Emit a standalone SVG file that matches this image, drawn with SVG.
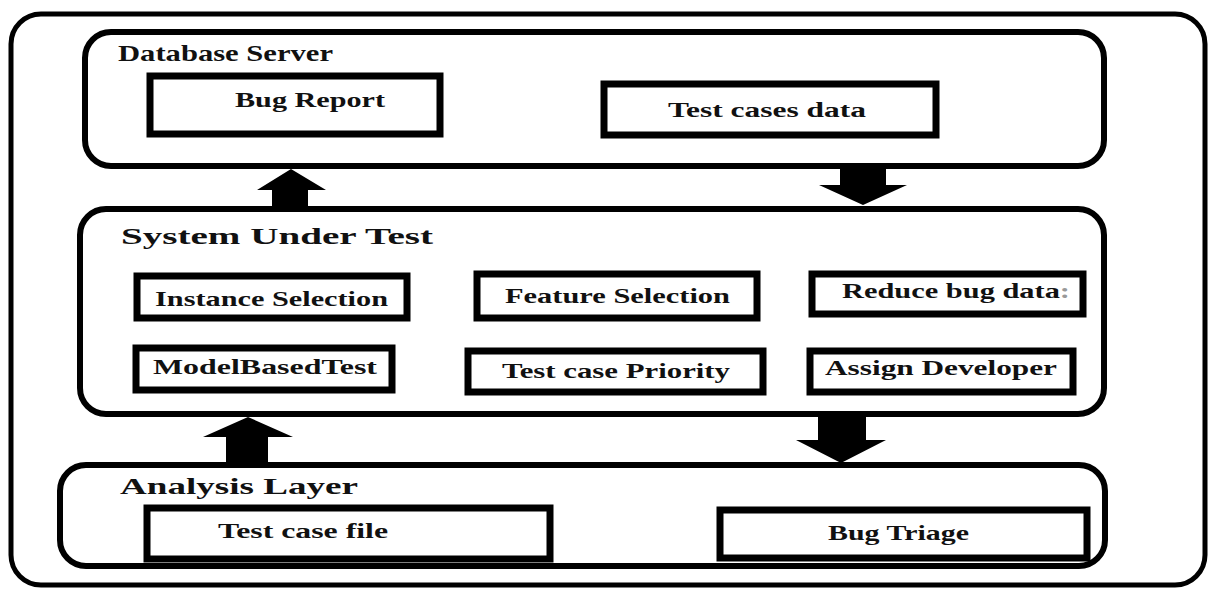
<svg xmlns="http://www.w3.org/2000/svg" width="1210" height="590" viewBox="0 0 1210 590">
  <style>
    .frame { fill: none; stroke: #000; stroke-width: 5; }
    .layer { fill: #fff; stroke: #000; stroke-width: 6; }
    .box { fill: #fff; stroke: #000; stroke-width: 7; }
    .title { font-family: "Liberation Serif", "Times New Roman", serif; font-weight: bold; font-size: 24px; fill: #111; }
    .label { font-family: "Liberation Serif", "Times New Roman", serif; font-weight: bold; font-size: 21px; fill: #111; }
    .arrow { fill: #000; }
  </style>
  <rect width="1210" height="590" fill="#fff"/>

  <!-- outer frame -->
  <rect id="frame" class="frame" x="11" y="14" width="1194" height="571" rx="30" ry="30"/>

  <!-- top layer -->
  <g id="database-server">
    <rect class="layer" x="85" y="32" width="1019" height="134" rx="26" ry="26"/>
    <text class="title" x="118" y="61" font-size="21" textLength="215" lengthAdjust="spacingAndGlyphs">Database Server</text>
  </g>
  <g id="bug-report">
    <rect class="box" x="150" y="76" width="290" height="58"/>
    <text class="label" x="235" y="107" textLength="150" lengthAdjust="spacingAndGlyphs">Bug Report</text>
  </g>
  <g id="test-cases-data">
    <rect class="box" x="604" y="84" width="332" height="51"/>
    <text class="label" x="668" y="117" textLength="198" lengthAdjust="spacingAndGlyphs">Test cases data</text>
  </g>

  <!-- middle layer -->
  <g id="system-under-test">
    <rect class="layer" x="80" y="209" width="1024" height="205" rx="26" ry="26"/>
    <text class="title" x="121" y="244" textLength="312" lengthAdjust="spacingAndGlyphs">System Under Test</text>
  </g>
  <g id="instance-selection">
    <rect class="box" x="137" y="276" width="270" height="42"/>
    <text class="label" x="155" y="306" textLength="233" lengthAdjust="spacingAndGlyphs">Instance Selection</text>
  </g>
  <g id="feature-selection">
    <rect class="box" x="477" y="274" width="280" height="44"/>
    <text class="label" x="505" y="303" textLength="225" lengthAdjust="spacingAndGlyphs">Feature Selection</text>
  </g>
  <g id="reduce-bug-data">
    <rect class="box" x="812" y="274" width="271" height="40"/>
    <text class="label" x="842" y="298" textLength="228" lengthAdjust="spacingAndGlyphs">Reduce bug data<tspan fill="#999">:</tspan></text>
  </g>
  <g id="model-based-test">
    <rect class="box" x="136" y="348" width="256" height="42"/>
    <text class="label" x="153" y="374" textLength="224" lengthAdjust="spacingAndGlyphs">ModelBasedTest</text>
  </g>
  <g id="test-case-priority">
    <rect class="box" x="468" y="351" width="295" height="41"/>
    <text class="label" x="502" y="378" textLength="228" lengthAdjust="spacingAndGlyphs">Test case  Priority</text>
  </g>
  <g id="assign-developer">
    <rect class="box" x="810" y="351" width="263" height="41"/>
    <text class="label" x="825" y="375" textLength="232" lengthAdjust="spacingAndGlyphs">Assign Developer</text>
  </g>

  <!-- bottom layer -->
  <g id="analysis-layer">
    <rect class="layer" x="60" y="465" width="1045" height="101" rx="26" ry="26"/>
    <text class="title" x="120" y="494" textLength="238" lengthAdjust="spacingAndGlyphs">Analysis Layer</text>
  </g>
  <g id="test-case-file">
    <rect class="box" x="147" y="508" width="403" height="51"/>
    <text class="label" x="218" y="538" textLength="170" lengthAdjust="spacingAndGlyphs">Test case file</text>
  </g>
  <g id="bug-triage">
    <rect class="box" x="720" y="510" width="367" height="48"/>
    <text class="label" x="828" y="540" textLength="141" lengthAdjust="spacingAndGlyphs">Bug Triage</text>
  </g>

  <!-- block arrows between layers -->
  <g id="connectors">
    <polygon class="arrow" points="272,207 272,190 257,190 291,169 326,190 308,190 308,207"/>
    <polygon class="arrow" points="840,168 840,185 819,185 863,205 907,185 886,185 886,168"/>
    <polygon class="arrow" points="226,463 226,437 203,437 248,417 293,437 268,437 268,463"/>
    <polygon class="arrow" points="818,416 818,440 796,440 841,463 886,440 866,440 866,416"/>
  </g>
</svg>
